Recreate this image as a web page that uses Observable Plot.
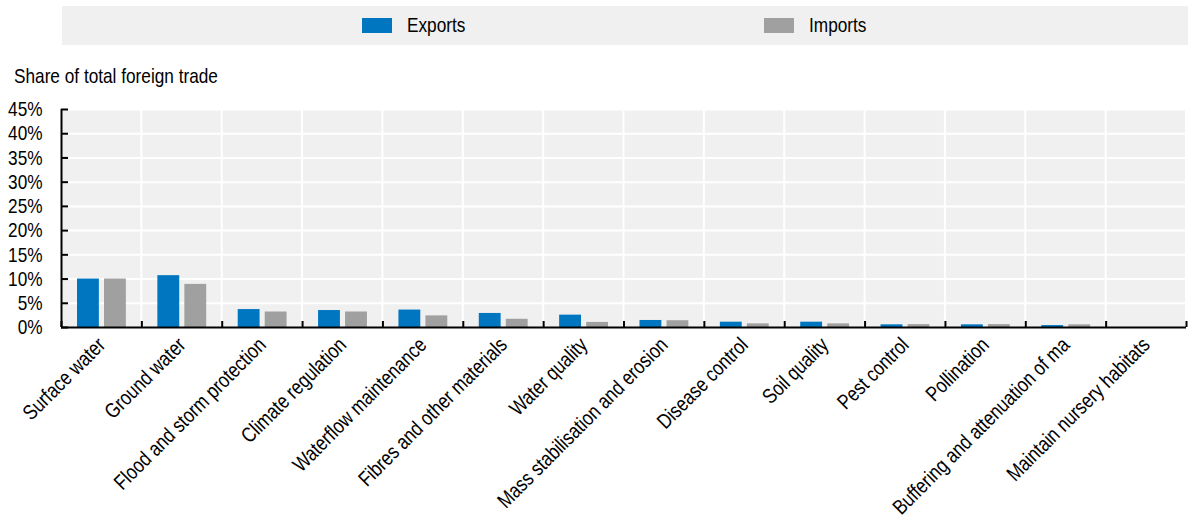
<!DOCTYPE html>
<html><head><meta charset="utf-8">
<script src="https://cdn.jsdelivr.net/npm/d3@7"></script>
<script src="https://cdn.jsdelivr.net/npm/@observablehq/plot@0.6"></script>
<style>
body{margin:0;background:#fff;font-family:"Liberation Sans",Arial,sans-serif;color:#000;}
#legend{position:relative;margin:6px 0 0 62px;width:1126px;height:39px;background:#f0f0f0;}
.sw{position:absolute;top:12px;width:30px;height:15px;}
.lt{position:absolute;top:7px;font-size:21px;line-height:24px;white-space:nowrap;transform:scaleX(0.82);transform-origin:0 50%;}
#title{height:50px;box-sizing:border-box;padding:19px 0 0 14px;font-size:21px;line-height:24px;white-space:nowrap;}
#title span{display:inline-block;transform:scaleX(0.82);transform-origin:0 50%;}
</style></head><body>
<div id="legend"></div><div id="title"><span>Share of total foreign trade</span></div><div id="chart"></div>
<script>
const categories = ["Surface water","Ground water","Flood and storm protection","Climate regulation","Waterflow maintenance","Fibres and other materials","Water quality","Mass stabilisation and erosion","Disease control","Soil quality","Pest control","Pollination","Buffering and attenuation of ma","Maintain nursery habitats"];
const exportsShare = [10.0, 10.7, 3.7, 3.5, 3.6, 2.9, 2.55, 1.45, 1.1, 1.1, 0.55, 0.55, 0.4, 0];
const importsShare = [10.0, 8.9, 3.2, 3.2, 2.4, 1.7, 1.05, 1.4, 0.75, 0.75, 0.6, 0.6, 0.55, 0];
const seriesNames = ["Exports","Imports"];
const seriesColors = ["#0076c0","#a0a0a0"];
const yTicks = [0,5,10,15,20,25,30,35,40,45];

const FONT = '"Liberation Sans",Arial,sans-serif';

// legend
const legend = document.getElementById("legend");
const legendPos = [[300,345],[702,747]];
seriesNames.forEach((s,k)=>{
  const sw=document.createElement("div");sw.className="sw";sw.style.left=legendPos[k][0]+"px";sw.style.background=seriesColors[k];legend.appendChild(sw);
  const t=document.createElement("div");t.className="lt";t.style.left=legendPos[k][1]+"px";t.textContent=s;legend.appendChild(t);
});

const n = categories.length;
const data = categories.flatMap((c,i)=>[
  {i, category:c, series:seriesNames[0], value:exportsShare[i]},
  {i, category:c, series:seriesNames[1], value:importsShare[i]}
]);

const chart = Plot.plot({
  width:1188, height:422, marginTop:14, marginBottom:190, marginLeft:61, marginRight:2,
  style:{fontFamily:FONT, fontSize:"21px", color:"#000", background:"transparent", overflow:"visible"},
  x:{domain:[0,n], label:null},
  y:{domain:[0,45], label:null},
  marks:[
    Plot.rectY(categories,{x1:(d,i)=>i, x2:(d,i)=>i+1, y1:()=>0, y2:()=>45, fill:"#f0f0f0", insetLeft:1, insetRight:1}),
    Plot.ruleY(yTicks.slice(1), {stroke:"white", strokeWidth:2}),
    Plot.rectY(data.filter(d=>d.series===seriesNames[0]), {x1:"i", x2:d=>d.i+1, y:"value", fill:seriesColors[0], insetLeft:16, insetRight:42.5}),
    Plot.rectY(data.filter(d=>d.series===seriesNames[1]), {x1:"i", x2:d=>d.i+1, y:"value", fill:seriesColors[1], insetLeft:43, insetRight:15.5}),
    Plot.ruleY([0], {stroke:"black", strokeWidth:2}),
    Plot.ruleX([0], {y1:()=>0, y2:()=>45, stroke:"black", strokeWidth:2}),
    Plot.axisY({ticks:yTicks, tickSize:7, dx:7, tickFormat:()=>"", strokeWidth:2, label:null}),
    Plot.axisY({ticks:yTicks, tickSize:0, tickPadding:19, tickFormat:d=>d+"%", fontSize:21, label:null}),
    Plot.axisX({ticks:d3.range(n+1), tickSize:6, dy:-6, tickFormat:()=>"", strokeWidth:2, label:null}),
    Plot.axisX({ticks:d3.range(n).map(i=>i+0.5), tickSize:0, tickPadding:14, tickRotate:-45, fontSize:21, tickFormat:t=>categories[Math.floor(t)], label:null})
  ]
});
// emulate a narrow typeface: squeeze text horizontally around its anchor
chart.querySelectorAll("text").forEach(t=>{
  if (!t.textContent) return;
  const tr = t.getAttribute("transform") || "";
  t.setAttribute("transform", tr + " scale(0.82,1)");
});
document.getElementById("chart").appendChild(chart);
</script>
</body></html>
